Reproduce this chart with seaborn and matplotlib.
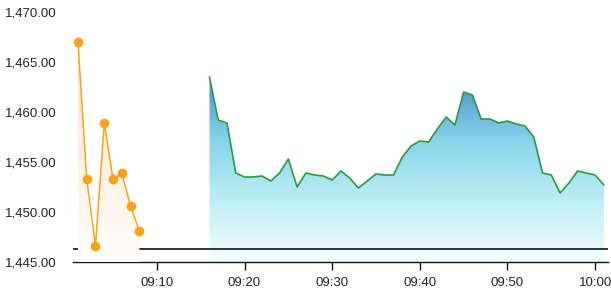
import numpy as np
import pandas as pd
import matplotlib
matplotlib.use("Agg")
import matplotlib.pyplot as plt
import matplotlib.dates as mdates
from matplotlib.colors import LinearSegmentedColormap
import seaborn as sns

# ---- data ----
pre_times = ["09:01", "09:02", "09:03", "09:04", "09:05", "09:06", "09:07", "09:08"]
pre_values = [1467.0, 1453.3, 1446.6, 1458.9, 1453.3, 1453.9, 1450.6, 1448.1]

main_times = ["09:%02d" % m for m in range(16, 60)] + ["10:00", "10:01"]
main_values = [1463.5, 1459.2, 1458.9, 1453.9, 1453.5, 1453.5, 1453.6, 1453.1,
               1453.9, 1455.3, 1452.5, 1453.9, 1453.7, 1453.6, 1453.2, 1454.1,
               1453.4, 1452.4, 1453.1, 1453.8, 1453.7, 1453.7, 1455.5, 1456.6,
               1457.1, 1457.0, 1458.3, 1459.5, 1458.7, 1462.0, 1461.7, 1459.3,
               1459.3, 1458.9, 1459.1, 1458.8, 1458.6, 1457.5, 1453.9, 1453.7,
               1451.9, 1452.9, 1454.1, 1453.9, 1453.7, 1452.7]
ref_level = 1446.35
y_ticks = [1445, 1450, 1455, 1460, 1465, 1470]
x_ticks = ["09:10", "09:20", "09:30", "09:40", "09:50", "10:00"]

day = "2024-01-02 "
pre = pd.DataFrame({"t": pd.to_datetime([day + t for t in pre_times]), "v": pre_values})
main = pd.DataFrame({"t": pd.to_datetime([day + t for t in main_times]), "v": main_values})

sns.set_theme(style="white")
plt.rcParams["font.family"] = ["Liberation Sans", "DejaVu Sans"]

fig = plt.figure(figsize=(6.11, 3.01), dpi=100)
ax = fig.add_axes([73 / 611, 1 - 262 / 301, (608 - 73) / 611, (262 - 12) / 301])

ymin, ymax = 1445, 1470
xlo = mdates.date2num(pd.Timestamp(day + "09:00:26"))
xhi = mdates.date2num(pd.Timestamp(day + "10:01:28"))


def gradient_fill(df, cmap, top, z):
    xn = mdates.date2num(df["t"])
    poly = ax.fill_between(df["t"], df["v"], ymin, color="none", lw=0, zorder=z)
    grad = np.linspace(0, 1, 256).reshape(-1, 1)
    im = ax.imshow(grad, cmap=cmap, aspect="auto", origin="lower",
                   extent=[xn.min(), xn.max(), ymin, top], zorder=z,
                   interpolation="bicubic")
    path = poly.get_paths()[0]
    im.set_clip_path(path, transform=ax.transData)


blue_cmap = LinearSegmentedColormap.from_list(
    "b", ["#f4feff", "#bdeef5", "#86d3e9", "#4b8dcb"])
orange_cmap = LinearSegmentedColormap.from_list(
    "o", ["#fffdfa", "#fef1e2", "#fde3c5"])

gradient_fill(main, blue_cmap, max(main_values), 1)
ax.axhline(ref_level, color="#111111", lw=1.2, zorder=2)
gradient_fill(pre, orange_cmap, max(pre_values), 3)

sns.lineplot(data=main, x="t", y="v", ax=ax, color="#2b9a3c", lw=1.2, zorder=4)
sns.lineplot(data=pre, x="t", y="v", ax=ax, color="#f7a31c", lw=1.1, zorder=4,
             marker="o", markersize=7, markeredgewidth=0, markerfacecolor="#f7a31c")

ax.set_xlim(xlo, xhi)
ax.set_ylim(ymin, ymax)
ax.set_yticks(y_ticks)
ax.set_yticklabels([f"{v:,.2f}" for v in y_ticks])
ax.set_xticks(mdates.date2num(pd.to_datetime([day + t for t in x_ticks])))
ax.set_xticklabels(x_ticks)
ax.set_xlabel("")
ax.set_ylabel("")

for s in ["top", "right", "left"]:
    ax.spines[s].set_visible(False)
ax.spines["bottom"].set_color("#111111")
ax.spines["bottom"].set_linewidth(1.0)
ax.tick_params(axis="x", bottom=True, length=6, width=1, color="#111111",
               pad=5, labelsize=9.5, labelcolor="#222222")
ax.tick_params(axis="y", left=False, length=0, pad=11.5, labelsize=9.5,
               labelcolor="#222222")
ax.grid(False)

fig.savefig("out.png", dpi=100)
